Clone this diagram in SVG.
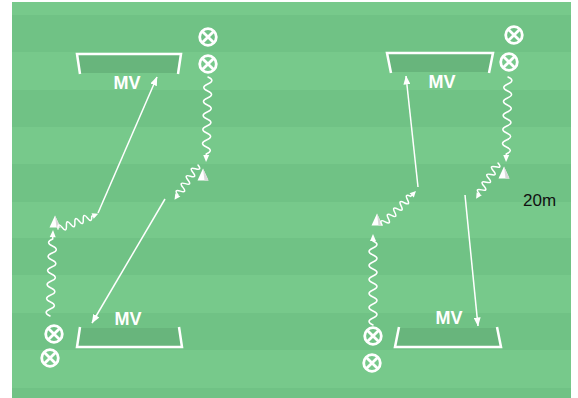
<svg xmlns="http://www.w3.org/2000/svg" xmlns:xlink="http://www.w3.org/1999/xlink" width="578" height="398" viewBox="0 0 578 398">
<style>
.goal{fill:#68b57c;stroke:none}
.post{fill:none;stroke:#ffffff;stroke-width:2.5;stroke-linejoin:miter}
.mv{font-family:"Liberation Sans",Arial,sans-serif;font-weight:bold;font-size:18px;fill:#ffffff;text-anchor:middle}
.lbl{font-family:"Liberation Sans",Arial,sans-serif;font-size:17px;fill:#111111}
.pass{fill:none;stroke:#ffffff;stroke-width:1.5}
.wave{fill:none;stroke:#ffffff;stroke-width:1.5;stroke-linecap:round}
.ah{fill:#ffffff}
.xm{fill:none;stroke:#ffffff;stroke-width:2.8}
.cone{fill:#ffffff}
.coneS{fill:#d9d9d9}
</style>
<defs>
<marker id="arr" markerUnits="userSpaceOnUse" markerWidth="9" markerHeight="7" refX="8.5" refY="3.5" orient="auto">
<path d="M0,0 L9,3.5 L0,7 z" fill="#ffffff"/>
</marker>
<g id="xmark">
<circle class="xm" cx="0" cy="0" r="8.3"/>
<path class="xm" d="M-5.6,-5.6 L5.6,5.6 M5.6,-5.6 L-5.6,5.6"/>
</g>
<g id="cone">
<path class="cone" d="M0,-6.5 L-5.5,5.5 L5.5,5.5 z"/>
<path class="coneS" d="M0,-6.5 L5.5,5.5 L1.5,5.5 z"/>
</g>
</defs>

<g id="field">
<rect x="12" y="2" width="559" height="396" fill="#77c98b"/>
<rect x="12" y="15" width="559" height="37" fill="#70c285"/>
<rect x="12" y="90" width="559" height="37" fill="#70c285"/>
<rect x="12" y="164" width="559" height="38" fill="#70c285"/>
<rect x="12" y="238" width="559" height="37" fill="#70c285"/>
<rect x="12" y="313" width="559" height="37" fill="#70c285"/>
<rect x="12" y="388" width="559" height="10" fill="#70c285"/>
</g>

<g id="goal-top-left">
<path class="goal" d="M78,54 L180,54 L177,73 L80,73 z"/>
<path class="post" d="M80,74 L77,54 L181,54 L178,74"/>
<text class="mv" x="127" y="89">MV</text>
</g>
<g id="goal-top-right">
<path class="goal" d="M388,53 L492,53 L489,72 L391,72 z"/>
<path class="post" d="M391,73 L387,53 L493,53 L489,73"/>
<text class="mv" x="442" y="88">MV</text>
</g>
<g id="goal-bottom-left">
<path class="goal" d="M80,328 L179,328 L181,346 L78,346 z"/>
<path class="post" d="M80,327 L77,347 L182,347 L179,327"/>
<text class="mv" x="128" y="325">MV</text>
</g>
<g id="goal-bottom-right">
<path class="goal" d="M399,328 L497,328 L500,346 L396,346 z"/>
<path class="post" d="M399,327 L395,347 L501,347 L497,327"/>
<text class="mv" x="449" y="324">MV</text>
</g>

<g id="player-tl-1"><use xlink:href="#xmark" href="#xmark" x="208" y="37"/></g>
<g id="player-tl-2"><use xlink:href="#xmark" href="#xmark" x="208" y="64"/></g>
<g id="player-tr-1"><use xlink:href="#xmark" href="#xmark" x="514" y="35"/></g>
<g id="player-tr-2"><use xlink:href="#xmark" href="#xmark" x="509" y="62"/></g>
<g id="player-bl-1"><use xlink:href="#xmark" href="#xmark" x="54" y="334"/></g>
<g id="player-bl-2"><use xlink:href="#xmark" href="#xmark" x="50" y="358"/></g>
<g id="player-br-1"><use xlink:href="#xmark" href="#xmark" x="373" y="336"/></g>
<g id="player-br-2"><use xlink:href="#xmark" href="#xmark" x="372" y="363"/></g>

<g id="cone-left-low"><use xlink:href="#cone" href="#cone" x="55" y="222"/></g>
<g id="cone-left-high"><use xlink:href="#cone" href="#cone" x="203" y="175"/></g>
<g id="cone-right-high"><use xlink:href="#cone" href="#cone" x="504" y="173"/></g>
<g id="cone-right-low"><use xlink:href="#cone" href="#cone" x="377" y="220"/></g>

<g id="connectors">
<line class="pass" x1="98" y1="213" x2="157" y2="77" marker-end="url(#arr)"/>
<line class="pass" x1="165" y1="199" x2="92" y2="323" marker-end="url(#arr)"/>
<line class="pass" x1="418" y1="187" x2="406" y2="76" marker-end="url(#arr)"/>
<line class="pass" x1="465" y1="195" x2="478" y2="326" marker-end="url(#arr)"/>

<g transform="translate(208,77) rotate(91.3)">
<path class="wave" d="M0,0 q3.5,-8 7,0 t7,0 t7,0 t7,0 t7,0 t7,0 t7,0 t7,0 t7,0 t7,0 t7,0 h2"/>
<path class="ah" d="M85,0 L78,-3 L78,3 z"/>
</g>
<g transform="translate(198,165) rotate(124)">
<path class="wave" d="M0,0 q2.25,-7 4.5,0 t4.5,0 t4.5,0 t4.5,0 t4.5,0 t4.5,0 t4.5,0 t4.5,0 h1"/>
<path class="ah" d="M42,0 L36,-3 L36,3 z"/>
</g>
<g transform="translate(50,316) rotate(-88)">
<path class="wave" d="M0,0 q3.5,-8 7,0 t7,0 t7,0 t7,0 t7,0 t7,0 t7,0 t7,0 t7,0 t7,0 t7,0 h3"/>
<path class="ah" d="M86,0 L79,-3 L79,3 z"/>
</g>
<g transform="translate(58,229) rotate(-20.6)">
<path class="wave" d="M0,0 q2.25,-7 4.5,0 t4.5,0 t4.5,0 t4.5,0 t4.5,0 t4.5,0 t4.5,0 t4.5,0 h1"/>
<path class="ah" d="M43,0 L37,-3 L37,3 z"/>
</g>
<g transform="translate(508,77) rotate(91.3)">
<path class="wave" d="M0,0 q3.5,-8 7,0 t7,0 t7,0 t7,0 t7,0 t7,0 t7,0 t7,0 t7,0 t7,0 t7,0 h2"/>
<path class="ah" d="M85,0 L78,-3 L78,3 z"/>
</g>
<g transform="translate(498,163) rotate(121.4)">
<path class="wave" d="M0,0 q2.25,-7 4.5,0 t4.5,0 t4.5,0 t4.5,0 t4.5,0 t4.5,0 t4.5,0 t4.5,0 h1"/>
<path class="ah" d="M42,0 L36,-3 L36,3 z"/>
</g>
<g transform="translate(373,325) rotate(-90)">
<path class="wave" d="M0,0 q3.5,-8 7,0 t7,0 t7,0 t7,0 t7,0 t7,0 t7,0 t7,0 t7,0 t7,0 t7,0 t7,0 h1"/>
<path class="ah" d="M91,0 L84,-3 L84,3 z"/>
</g>
<g transform="translate(382,225) rotate(-45)">
<path class="wave" d="M0,0 q2.25,-7 4.5,0 t4.5,0 t4.5,0 t4.5,0 t4.5,0 t4.5,0 t4.5,0 t4.5,0 t4.5,0 h1"/>
<path class="ah" d="M48,0 L42,-3 L42,3 z"/>
</g>
</g>

<g id="label-20m"><text class="lbl" x="523" y="206">20m</text></g>
</svg>
